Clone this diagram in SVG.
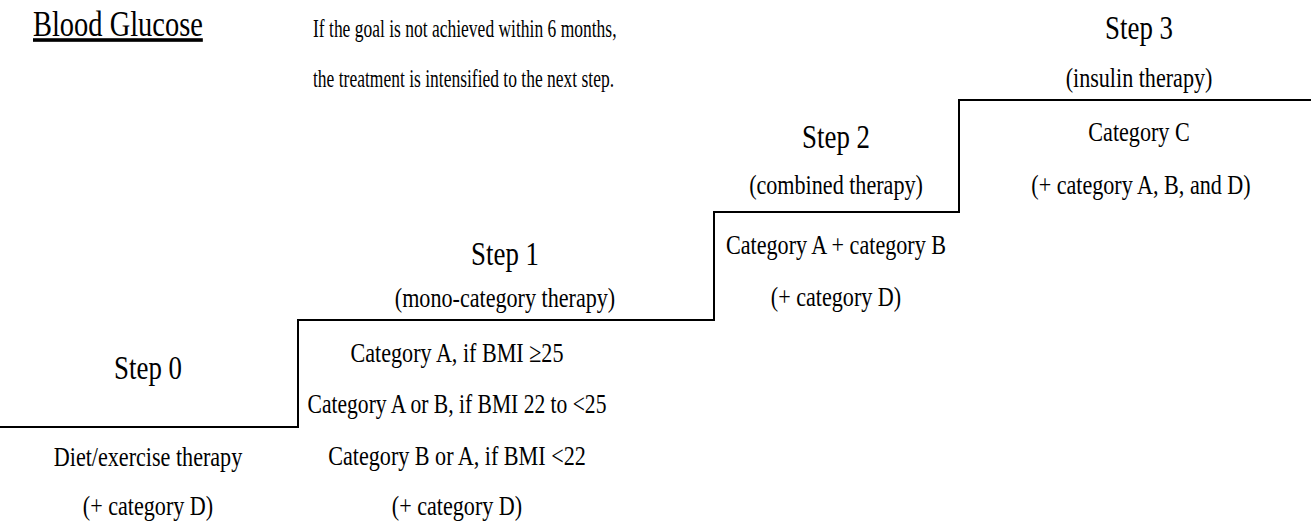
<svg xmlns="http://www.w3.org/2000/svg" width="1311" height="525" viewBox="0 0 1311 525">
<style>
text{font-family:"Liberation Serif","Times New Roman",serif;fill:#000;text-anchor:middle}
.t{font-size:34px}
.b{font-size:28px}
.h{font-size:25px;text-anchor:start}
.g{font-size:36px;text-anchor:start;text-decoration:underline}
.stair{fill:none;stroke:#000;stroke-width:2}
</style>
<rect width="1311" height="525" fill="#fff"/>
<g id="title">
<text class="g" transform="translate(33 36) scale(0.79 1)">Blood Glucose</text>
</g>
<g id="note">
<text class="h" transform="translate(313 37) scale(0.7 1)">If the goal is not achieved within 6 months,</text>
<text class="h" transform="translate(313 87) scale(0.7 1)">the treatment is intensified to the next step.</text>
</g>
<g id="connectors">
<path class="stair" d="M0,427 H298 V320 H714 V212 H959 V100 H1311"/>
</g>
<g id="step0">
<text class="t" transform="translate(148 379) scale(0.79 1)">Step 0</text>
<text class="b" transform="translate(148 466) scale(0.79 1)">Diet/exercise therapy</text>
<text class="b" transform="translate(148 515) scale(0.79 1)">(+ category D)</text>
</g>
<g id="step1">
<text class="t" transform="translate(505 265) scale(0.79 1)">Step 1</text>
<text class="b" transform="translate(505 307) scale(0.79 1)">(mono-category therapy)</text>
<text class="b" transform="translate(457 362) scale(0.79 1)">Category A, if BMI ≥25</text>
<text class="b" transform="translate(457 413) scale(0.77 1)">Category A or B, if BMI 22 to &lt;25</text>
<text class="b" transform="translate(457 465) scale(0.79 1)">Category B or A, if BMI &lt;22</text>
<text class="b" transform="translate(457 515) scale(0.79 1)">(+ category D)</text>
</g>
<g id="step2">
<text class="t" transform="translate(836 148) scale(0.79 1)">Step 2</text>
<text class="b" transform="translate(836 194) scale(0.79 1)">(combined therapy)</text>
<text class="b" transform="translate(836 254) scale(0.79 1)">Category A + category B</text>
<text class="b" transform="translate(836 306) scale(0.79 1)">(+ category D)</text>
</g>
<g id="step3">
<text class="t" transform="translate(1139 39) scale(0.79 1)">Step 3</text>
<text class="b" transform="translate(1139 87) scale(0.79 1)">(insulin therapy)</text>
<text class="b" transform="translate(1139 141) scale(0.79 1)">Category C</text>
<text class="b" transform="translate(1141 194) scale(0.79 1)">(+ category A, B, and D)</text>
</g>
</svg>
